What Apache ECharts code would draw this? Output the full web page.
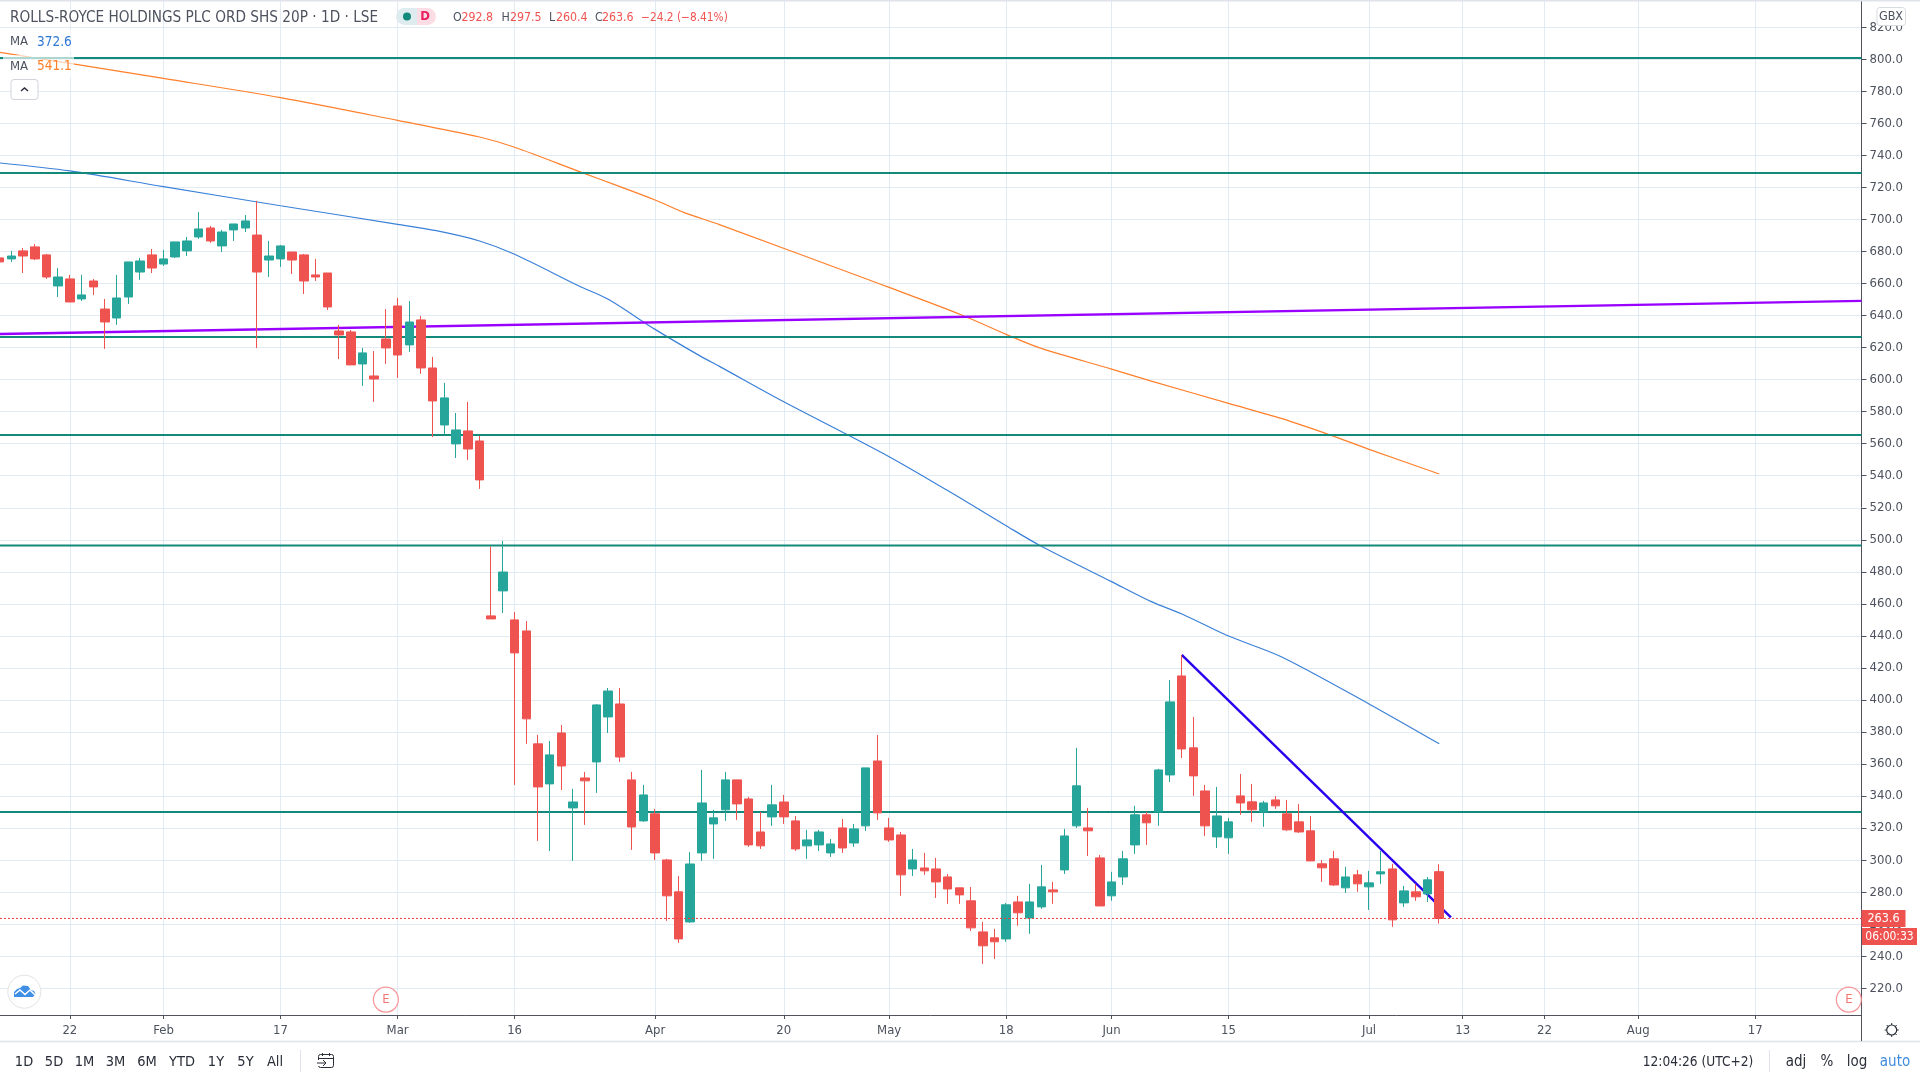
<!DOCTYPE html>
<html>
<head>
<meta charset="utf-8">
<title>RR.</title>
<script src="https://cdn.jsdelivr.net/npm/echarts@6/dist/echarts.min.js"></script>
<style>
  html, body { margin: 0; padding: 0; background: #fff; overflow: hidden; }
  #main { width: 1920px; height: 1080px; }
</style>
</head>
<body>
<div id="main"></div>
<script>
const opens = [
  676.0, 675.4, 680.4, 682.9, 677.9, 658.5, 662.9, 650.4, 661.6, 644.1,
  638.5, 651.6, 667.2, 677.9, 672.2, 676.6, 680.4, 689.1, 694.7, 683.5,
  693.5, 694.7, 690.3, 674.7, 675.4, 679.7, 677.9, 665.4, 666.6, 630.4,
  629.8, 609.8, 602.3, 625.4, 646.0, 621.7, 637.3, 607.3, 571.7, 559.9,
  568.0, 561.7, 452.5, 468.1, 450.0, 443.1, 372.6, 347.6, 379.4, 332.6,
  351.3, 361.3, 389.4, 397.5, 350.1, 324.5, 328.9, 300.1, 280.2, 261.4,
  304.5, 322.6, 331.4, 350.1, 338.2, 317.6, 327.0, 336.3, 324.5, 308.9,
  309.5, 304.5, 320.1, 310.7, 321.4, 361.9, 320.1, 315.7, 294.5, 295.1,
  294.5, 289.5, 282.7, 274.6, 255.2, 251.5, 250.8, 273.9, 263.9, 270.8,
  281.4, 293.9, 321.4, 320.1, 301.4, 277.7, 289.5, 309.5, 328.3, 330.1,
  353.2, 415.0, 370.1, 343.2, 314.5, 313.9, 340.1, 336.4, 330.1, 337.6,
  328.9, 323.9, 318.3, 297.7, 300.8, 282.7, 290.8, 283.3, 291.4, 294.5,
  273.3, 280.2, 278.9, 292.8
]
const closes = [
  673.5, 677.2, 677.2, 675.4, 664.1, 664.1, 648.5, 652.9, 657.9, 636.0,
  651.0, 673.5, 674.1, 669.7, 675.4, 686.0, 686.6, 694.1, 686.6, 692.2,
  697.2, 699.1, 667.2, 677.2, 683.5, 674.7, 661.6, 664.1, 645.4, 627.9,
  609.2, 616.7, 600.4, 619.8, 615.4, 636.0, 607.3, 586.7, 588.6, 568.6,
  556.7, 537.4, 450.6, 479.9, 429.4, 388.2, 345.7, 365.7, 358.8, 336.3,
  349.5, 396.9, 405.6, 364.4, 320.7, 340.7, 304.5, 277.7, 250.8, 297.6,
  335.7, 326.4, 350.1, 335.1, 309.5, 308.9, 334.5, 327.0, 307.0, 312.6,
  317.6, 310.1, 307.6, 319.5, 357.6, 329.5, 312.6, 290.8, 300.1, 293.3,
  286.4, 282.0, 278.3, 257.7, 246.5, 249.0, 272.1, 267.1, 273.9, 283.3,
  280.2, 315.1, 346.4, 318.3, 271.4, 286.4, 300.8, 328.3, 323.3, 356.3,
  398.8, 369.4, 352.6, 321.4, 327.6, 323.9, 335.7, 331.4, 335.7, 333.9,
  318.9, 317.6, 299.5, 295.2, 284.5, 289.5, 285.2, 285.8, 292.7, 262.7,
  280.8, 277.1, 287.7, 263.6
]
const lows = [
  673.5, 673.5, 666.6, 674.7, 662.9, 651.6, 648.5, 649.1, 652.9, 619.2,
  634.2, 647.3, 662.3, 666.6, 671.0, 676.0, 677.2, 687.9, 685.4, 679.7,
  686.6, 692.2, 619.8, 664.1, 670.4, 666.0, 653.5, 661.6, 643.5, 612.9,
  609.2, 596.1, 586.1, 609.8, 601.1, 617.3, 603.6, 564.2, 566.1, 551.1,
  549.9, 531.8, 450.6, 454.3, 347.0, 372.6, 312.0, 305.7, 343.8, 299.5,
  322.0, 342.0, 379.4, 361.3, 306.4, 323.9, 300.1, 262.1, 248.3, 260.8,
  299.5, 300.8, 324.5, 325.1, 308.3, 307.0, 321.4, 322.6, 305.7, 300.8,
  305.7, 302.0, 304.5, 308.3, 318.2, 325.1, 311.4, 277.7, 290.1, 290.8,
  276.4, 272.7, 272.7, 255.8, 235.2, 238.3, 249.0, 259.0, 254.0, 269.6,
  272.7, 291.4, 320.1, 302.6, 271.4, 274.6, 284.5, 303.9, 309.5, 321.4,
  348.8, 363.8, 340.1, 315.1, 307.6, 303.9, 328.3, 323.9, 320.8, 332.0,
  318.3, 317.0, 299.5, 286.4, 283.9, 279.5, 280.2, 268.9, 285.2, 258.3,
  270.8, 274.6, 273.9, 260.4
]
const highs = [
  676.0, 680.4, 682.2, 684.7, 678.5, 669.7, 665.4, 665.4, 662.9, 650.4,
  665.4, 673.5, 676.0, 681.6, 681.0, 686.0, 689.1, 704.7, 696.0, 693.5,
  697.2, 702.8, 711.6, 686.6, 684.1, 679.7, 678.5, 675.4, 666.6, 634.2,
  631.0, 619.8, 617.9, 644.1, 651.0, 649.1, 639.8, 614.2, 598.0, 579.2,
  586.1, 564.9, 495.8, 499.3, 455.0, 449.3, 378.2, 374.4, 384.4, 344.5,
  355.1, 397.5, 407.5, 407.5, 355.1, 347.0, 332.0, 300.8, 290.1, 305.1,
  356.3, 331.4, 355.1, 350.1, 339.5, 330.1, 347.0, 340.7, 327.6, 318.9,
  318.9, 313.2, 325.7, 322.6, 357.6, 378.2, 326.4, 317.6, 307.0, 304.5,
  301.4, 291.4, 282.7, 283.3, 261.4, 257.1, 273.3, 277.7, 285.2, 297.0,
  286.4, 319.5, 370.1, 332.6, 303.3, 292.7, 305.8, 333.9, 330.1, 357.0,
  412.5, 428.1, 389.4, 347.0, 345.7, 326.4, 353.8, 347.6, 337.0, 340.1,
  337.6, 335.1, 327.6, 300.1, 305.8, 295.8, 293.9, 293.3, 305.8, 297.7,
  283.9, 285.2, 289.5, 297.5
]

// moving averages, read at a few bars along each curve
const maOrangeIdx = [0, 6, 14, 24, 34, 41, 44, 49.6, 53, 56, 58.5, 61.5, 74.3, 76, 82.2, 86, 88.8, 95, 98.4, 105, 109.5, 113.7, 117, 123]
const maOrangeVal = [804.4, 797.5, 788.1, 776.1, 761.9, 751.5, 745.1, 729.7, 720.5, 712.2, 704.3, 696.8, 662.2, 657.6, 640.4, 628.3, 620.0, 606.6, 599.1, 585.2, 575.8, 565.4, 556.5, 541.1]
const maBlueIdx = [0, 6, 14, 24, 34, 37.3, 41, 44, 49.5, 52, 56, 59.8, 61.5, 67, 76, 82.6, 86, 88.8, 95, 98.4, 101.2, 105, 109.5, 117, 123]
const maBlueVal = [735.3, 730.3, 720.5, 708.6, 697.0, 693.0, 686.6, 678.3, 658.5, 650.2, 631.4, 615.0, 608.3, 586.2, 551.9, 523.8, 508.8, 496.8, 473.9, 461.4, 453.1, 439.9, 427.0, 397.5, 372.6]

const levels = [800.9, 729.0, 626.6, 565.5, 496.4, 330.1]
const purpleIdx = [0, 159.08]
const purpleVal = [628.5, 649.2]
const trendIdx = [101, 124]
const trendVal = [428.1, 264.2]
const lastPrice = 263.6
const earningsIdx = [33, 158]

const xTickIdx = [6, 14, 24, 34, 44, 56, 67, 76, 86, 95, 105, 117, 125, 132, 140, 150]
const xTickLabels = ['22', 'Feb', '17', 'Mar', '16', 'Apr', '20', 'May', '18', 'Jun', '15', 'Jul', '13', '22', 'Aug', '17']
const yTicks = [220, 240, 260, 280, 300, 320, 340, 360, 380, 400, 420, 440, 460, 480, 500, 520, 540, 560, 580, 600, 620, 640, 660, 680, 700, 720, 740, 760, 780, 800, 820]

const rangeButtons = ['1D', '5D', '1M', '3M', '6M', 'YTD', '1Y', '5Y', 'All']
const rangeButtonX = [24, 54, 84.5, 115.5, 147, 182, 216, 245.5, 275]

const xMin = 0.03
const xMax = 159.08
const UP = '#26a69a'
const DOWN = '#ef5350'
const TEAL = '#12897b'
const GRID = '#e1ebf1'
const TEXT = '#4c525e'
const UI_FONT = "'Liberation Sans Narrow', 'DejaVu Sans Condensed', 'Liberation Sans', sans-serif"

function zip(xs, ys) {
  return xs.map((x, i) => [x, ys[i]])
}

function lineSeries(data, color, width, z, type) {
  return {
    type: 'line',
    data: data,
    z: z,
    symbol: 'none',
    silent: true,
    lineStyle: { color: color, width: width, type: type || 'solid' }
  }
}

function txt(x, y, text, fill, size, align, weight) {
  return {
    type: 'text',
    x: x,
    y: y,
    z: 100,
    style: {
      text: text,
      fill: fill,
      font: (weight || 'normal') + ' ' + size + 'px ' + UI_FONT,
      textAlign: align || 'left',
      textVerticalAlign: 'middle'
    }
  }
}

function rect(x, y, w, h, fill, extra) {
  return Object.assign({
    type: 'rect',
    z: 90,
    shape: { x: x, y: y, width: w, height: h, r: (extra && extra.r) || 0 },
    style: Object.assign({ fill: fill }, extra && extra.style)
  })
}

function seg(x1, y1, x2, y2, stroke, w) {
  return {
    type: 'line',
    z: 95,
    shape: { x1: x1, y1: y1, x2: x2, y2: y2 },
    style: { stroke: stroke, lineWidth: w || 1 }
  }
}

function polyline(points, stroke, w) {
  return {
    type: 'polyline',
    z: 96,
    shape: { points: points },
    style: { stroke: stroke, lineWidth: w || 1, fill: null }
  }
}

let elements = [
  rect(0, 0, 1920, 1.5, '#e0e3eb'),
  // bottom chrome
  seg(0, 1041.5, 1920, 1041.5, '#e0e3eb', 1.5),
  seg(1861.5, 1015, 1861.5, 1041, '#50535e', 1),
  seg(300.5, 1050, 300.5, 1072, '#e0e3eb', 1),
  seg(1769.5, 1050, 1769.5, 1072, '#e0e3eb', 1),
  // legend
  rect(3, 55, 71, 22, 'rgba(255,255,255,0.65)'),
  rect(3, 30, 71, 22, 'rgba(255,255,255,0.65)'),
  txt(10, 18, 'ROLLS-ROYCE HOLDINGS PLC ORD SHS 20P · 1D · LSE', '#4c525e', 15.2),
  txt(10, 42, 'MA', TEXT, 13),
  txt(37, 42, '372.6', '#2f78d6', 13.5),
  txt(10, 66.5, 'MA', TEXT, 13),
  txt(37, 66.5, '541.1', '#ff7f2a', 13.5),
  rect(396, 8, 21, 17, '#dfecef', { r: [8.5, 0, 0, 8.5] }),
  rect(417, 8, 19, 17, '#fbdde3', { r: [0, 8.5, 8.5, 0] }),
  { type: 'circle', z: 96, shape: { cx: 407, cy: 16.5, r: 4 }, style: { fill: '#12897b' } },
  txt(425, 17, 'D', '#e91e63', 13, 'center', 'bold'),
  txt(453, 18, 'O', TEXT, 12.3),
  txt(461.5, 18, '292.8', DOWN, 12.3),
  txt(501.5, 18, 'H', TEXT, 12.3),
  txt(510, 18, '297.5', DOWN, 12.3),
  txt(549, 18, 'L', TEXT, 12.3),
  txt(556, 18, '260.4', DOWN, 12.3),
  txt(595, 18, 'C', TEXT, 12.3),
  txt(602, 18, '263.6', DOWN, 12.3),
  txt(641, 18, '−24.2 (−8.41%)', DOWN, 11.8),
  rect(11, 79.5, 27, 20, '#fff', { r: 3, style: { stroke: '#d1d4dc', lineWidth: 1 } }),
  polyline([[21, 91], [24.5, 88], [28, 91]], '#2a2e39', 1.5),
  // currency and price tags on the right axis
  rect(1877, 7.5, 28.5, 18, '#fff', { r: 3, style: { stroke: '#d9dbe0', lineWidth: 1 } }),
  txt(1891, 17, 'GBX', TEXT, 12.5, 'center'),
  rect(1861.5, 910, 44, 17, DOWN),
  txt(1883.5, 919, '263.6', '#fff', 12.5, 'center'),
  rect(1862, 928, 55, 17, DOWN),
  txt(1889.5, 937, '06:00:33', '#fff', 12, 'center'),
  // logo
  { type: 'circle', z: 94, shape: { cx: 24.3, cy: 991.7, r: 16.5 }, style: { fill: '#fff', stroke: '#e3e3e3', lineWidth: 1 } },
  {
    type: 'polygon',
    z: 95,
    shape: { points: [[14, 997], [14, 992], [17, 989], [20, 988], [23, 985.5], [28, 986], [31, 990], [34, 991], [35.5, 994], [33, 997]] },
    style: { fill: '#3f8fe5' }
  },
  polyline([[15, 994], [20, 990], [25, 994.5], [30, 990], [35, 995]], '#fff', 1.5),
  // date range picker icon
  rect(318.5, 1054.5, 15, 13, '#fff', { r: 2, style: { stroke: '#2a2e39', lineWidth: 1 } }),
  seg(318.5, 1058.5, 333.5, 1058.5, '#2a2e39', 1),
  seg(322.5, 1053, 322.5, 1056, '#2a2e39', 1),
  seg(329.5, 1053, 329.5, 1056, '#2a2e39', 1),
  rect(316, 1060, 7, 6, '#fff'),
  seg(317, 1063, 326, 1063, '#2a2e39', 1),
  polyline([[323, 1060], [326, 1063], [323, 1066]], '#2a2e39', 1),
  // settings gear
  { type: 'circle', z: 96, shape: { cx: 1891.7, cy: 1030, r: 5 }, style: { fill: '#fff', stroke: '#2a2e39', lineWidth: 1.2 } },
  seg(1891.7, 1023, 1891.7, 1025, '#2a2e39', 1),
  seg(1891.7, 1035, 1891.7, 1037, '#2a2e39', 1),
  seg(1884.7, 1030, 1886.7, 1030, '#2a2e39', 1),
  seg(1896.7, 1030, 1898.7, 1030, '#2a2e39', 1),
  seg(1886.7, 1025, 1888.2, 1026.5, '#2a2e39', 1),
  seg(1895.2, 1033.5, 1896.7, 1035, '#2a2e39', 1),
  seg(1896.7, 1025, 1895.2, 1026.5, '#2a2e39', 1),
  seg(1888.2, 1033.5, 1886.7, 1035, '#2a2e39', 1),
  // bottom right controls
  txt(1698, 1062, '12:04:26 (UTC+2)', '#2a2e39', 13.6, 'center'),
  txt(1796, 1062, 'adj', '#2a2e39', 15, 'center'),
  txt(1827, 1062, '%', '#2a2e39', 15, 'center'),
  txt(1857, 1062, 'log', '#2a2e39', 15, 'center'),
  txt(1895, 1062, 'auto', '#3d8ce0', 15, 'center')
]

rangeButtons.forEach((name, i) => {
  elements.push(txt(rangeButtonX[i], 1062, name, '#2a2e39', 14.5, 'center'))
})

const candles = opens.map((o, i) => [i, o, closes[i], lows[i], highs[i]])

let series = [
  Object.assign(lineSeries(zip(maOrangeIdx, maOrangeVal), '#ff7f2a', 1.2, 1), { smooth: 0.3 }),
  Object.assign(lineSeries(zip(maBlueIdx, maBlueVal), '#3a80d8', 1.2, 1), { smooth: 0.3 })
]
levels.forEach(v => {
  series.push(lineSeries([[xMin, v], [xMax, v]], TEAL, 2, 2))
})
series.push(lineSeries(zip(purpleIdx, purpleVal), '#9900ff', 2.4, 2))
series.push(lineSeries(zip(trendIdx, trendVal), '#2a00f0', 2.4, 2))
series.push({
  type: 'candlestick',
  data: candles,
  z: 3,
  barWidth: 9,
  silent: true,
  itemStyle: {
    color: UP,
    color0: DOWN,
    borderColor: UP,
    borderColor0: DOWN,
    borderWidth: 1
  }
})
series.push(lineSeries([[xMin, lastPrice], [xMax, lastPrice]], '#ef3b3b', 1, 4, [2, 2]))
series.push({
  type: 'scatter',
  data: earningsIdx.map(i => [i, 212.9]),
  z: 5,
  symbolSize: 25,
  silent: true,
  clip: false,
  itemStyle: { color: '#fff', borderColor: '#f77c80', borderWidth: 1.2 },
  label: {
    show: true,
    position: 'inside',
    formatter: 'E',
    color: '#ef5350',
    fontSize: 13,
    fontFamily: UI_FONT
  }
})

const option = {
  animation: false,
  backgroundColor: '#fff',
  grid: { left: 0, top: 0, width: 1861.5, height: 1015 },
  xAxis: {
    type: 'value',
    min: xMin,
    max: xMax,
    axisLine: { show: true, onZero: false, lineStyle: { color: '#50535e', width: 1 } },
    axisTick: { show: true, length: 4, customValues: xTickIdx, lineStyle: { color: '#50535e' } },
    axisLabel: {
      customValues: xTickIdx,
      margin: 9,
      color: TEXT,
      fontSize: 13,
      fontFamily: UI_FONT,
      formatter: function (v) {
        return xTickLabels[xTickIdx.indexOf(v)]
      }
    },
    splitLine: { show: true, lineStyle: { color: GRID, width: 1 } }
  },
  yAxis: {
    type: 'value',
    position: 'right',
    min: 203.3,
    max: 837.05,
    axisLine: { show: true, lineStyle: { color: '#50535e', width: 1 } },
    axisTick: { show: true, length: 5, customValues: yTicks, lineStyle: { color: '#50535e' } },
    axisLabel: {
      customValues: yTicks,
      margin: 8,
      color: TEXT,
      fontSize: 13,
      fontFamily: UI_FONT,
      padding: [2, 0, 0, 0],
      formatter: function (v) {
        return v.toFixed(1)
      }
    },
    splitLine: { show: true, lineStyle: { color: GRID, width: 1 } }
  },
  series: series,
  graphic: { elements: elements }
}

const myChart = echarts.init(document.getElementById('main'))
myChart.setOption(option)
</script>
</body>
</html>
